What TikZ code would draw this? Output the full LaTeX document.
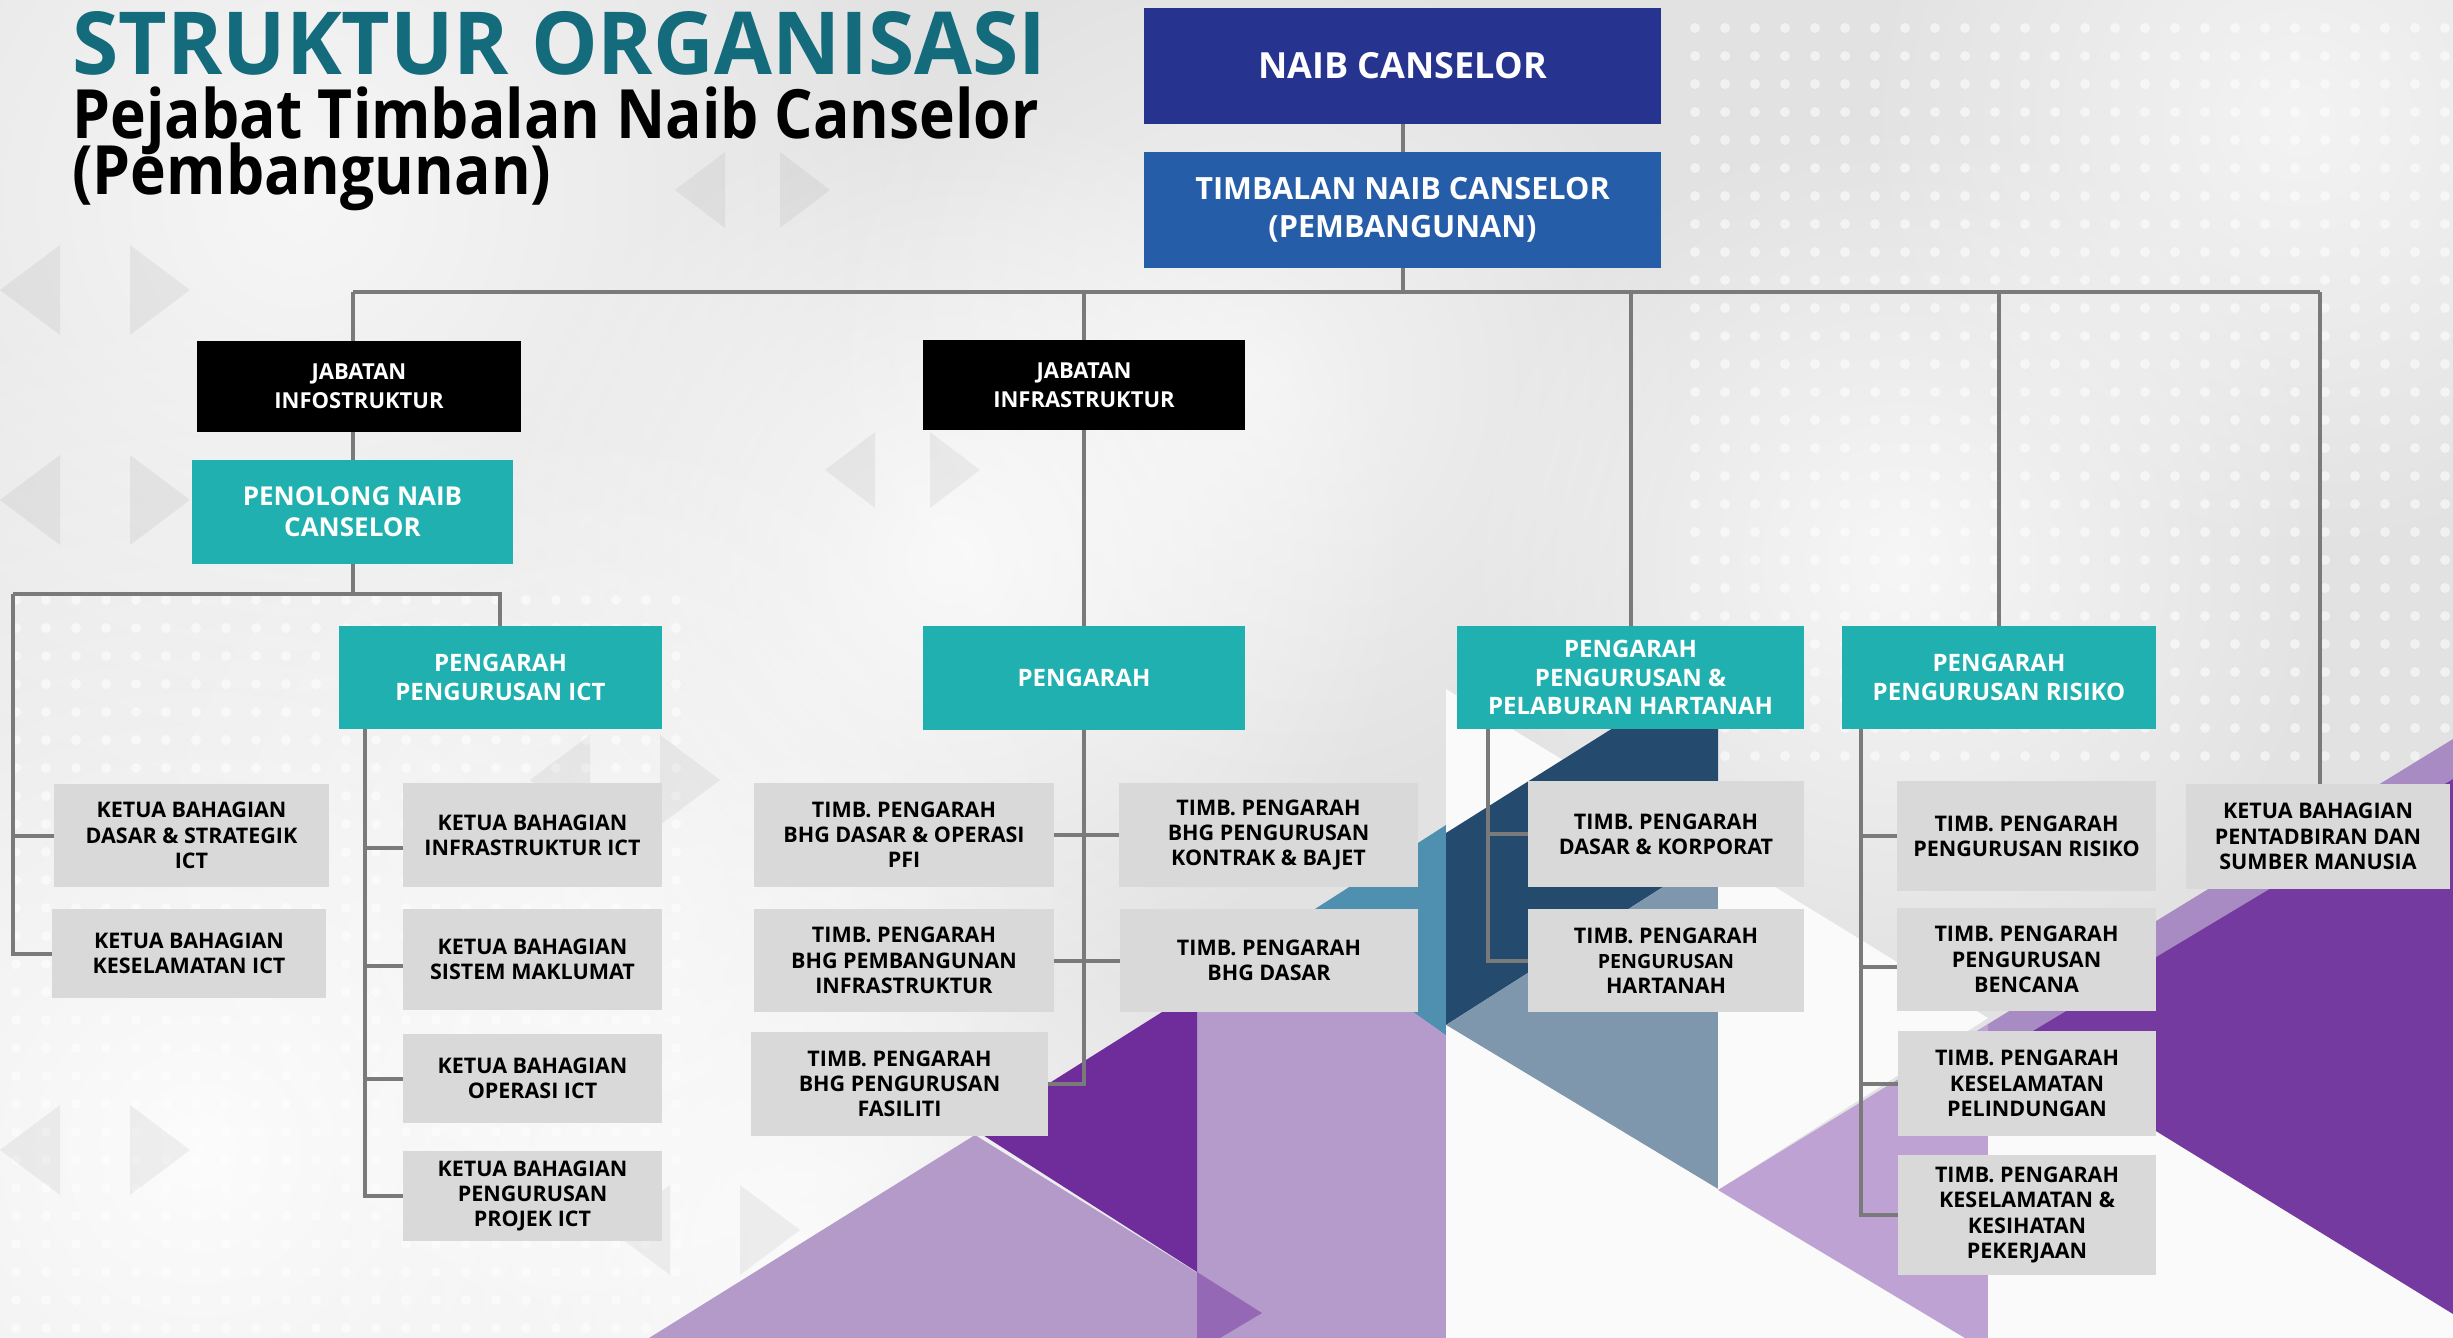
\documentclass[tikz,border=0pt]{standalone}
\usepackage{fontspec}
\setmainfont{Open Sans}
\newfontfamily\titlefont{Open Sans}[FakeStretch=0.965]
\newfontfamily\subfont{Open Sans}[FakeStretch=0.89]
\usetikzlibrary{calc,fadings}
\definecolor{ncblue}{HTML}{27348F}
\definecolor{tncblue}{HTML}{255DA8}
\definecolor{tealbox}{HTML}{21B0B0}
\definecolor{gbox}{HTML}{D9D9D9}
\definecolor{titlec}{HTML}{136B7C}
\definecolor{linkc}{HTML}{7A7A7A}
\definecolor{bgc}{HTML}{E2E2E2}
\definecolor{navyc}{HTML}{244A6E}
\definecolor{slatec}{HTML}{7F97AD}
\definecolor{steelc}{HTML}{4F8FB0}
\definecolor{dpurple}{HTML}{6F2D9C}
\definecolor{rpurple}{HTML}{753A9F}
\definecolor{lpurple}{HTML}{B39AC9}
\definecolor{lavc}{HTML}{B59BCB}
\definecolor{mpurple}{HTML}{9468B4}
\definecolor{bandp}{HTML}{A88BC3}
\definecolor{lav2}{HTML}{BEA2D3}
\definecolor{whitec}{HTML}{FAFAFA}
\tikzfading[name=softblob, inner color=transparent!0, outer color=transparent!100]
\pgfdeclarelayer{deco}
\pgfdeclarelayer{links}
\pgfsetlayers{deco,links,main}
\newcommand\bx[7]{\node[#6, minimum width={(#4-#2)*0.5pt}, minimum height={(#5-#3)*0.5pt}] (#1) at ({(#2+#4)/2},{(#3+#5)/2}) {#7};}
\newcommand\tightlines{\lineskiplimit=-100pt\relax\lineskip=0pt\relax}
\begin{document}
\begin{tikzpicture}[x=0.5pt,y=-0.5pt,
  box/.style={inner sep=0pt, align=center},
  topbox/.style={box, fill=ncblue, text=white, font=\bfseries\fontsize{18}{22}\selectfont},
  tncbox/.style={box, fill=tncblue, text=white, font=\bfseries\fontsize{15.3}{19}\selectfont},
  blackbox/.style={box, fill=black, text=white, font=\bfseries\fontsize{11}{14.3}\selectfont},
  pncbox/.style={box, fill=tealbox, text=white, font=\bfseries\fontsize{13}{15.5}\selectfont},
  tealb/.style={box, fill=tealbox, text=white, font=\bfseries\fontsize{12}{14.3}\selectfont},
  grayb/.style={box, fill=gbox, text=black, font=\bfseries\fontsize{10.75}{12.6}\selectfont},
  link/.style={draw=linkc, line width=2pt},
  dot/.style={fill=white, opacity=0.55},
  tri/.style={fill=black, opacity=0.05},
  blob/.style={fill=white, path fading=softblob},
  titleblock/.style={anchor=north west, inner sep=0pt, align=left, text=black,
    font=\subfont\bfseries\fontsize{34}{28}\selectfont\tightlines}
]
\useasboundingbox (0,0) rectangle (2453,1338);

% ---------- background ----------
\begin{pgfonlayer}{deco}
\fill[bgc] (0,0) rectangle (2453,1338);
\fill[blob, opacity=0.9] (200,1150) circle (420pt);
\fill[blob, opacity=0.7] (300,200) circle (320pt);
\fill[blob, opacity=0.8] (950,560) circle (230pt);
\fill[blob, opacity=0.6] (1250,380) circle (220pt);
\fill[blob, opacity=0.7] (1900,560) circle (220pt);
\fill[blob, opacity=0.6] (2300,120) circle (220pt);
\fill[blob, opacity=0.8] (800,1250) circle (260pt);
\fill[blob, opacity=0.5] (600,900) circle (250pt);
% dots
\foreach \i in {0,...,25}{\foreach \j in {0,...,26}{
  \fill[dot] ({1695+\i*30},{28+\j*28}) circle (2.5pt);}}
\foreach \i in {0,...,22}{\foreach \j in {0,...,26}{
  \fill[dot] ({16+\i*30},{600+\j*28}) circle (2.5pt);}}
% faint play triangles
\foreach \cx/\cy in {30/290, 30/500, 30/1150, 640/1230, 560/780}{
  \fill[tri] (\cx-30,\cy) -- (\cx+30,\cy-45) -- (\cx+30,\cy+45) -- cycle;
  \fill[tri] (\cx+100,\cy-45) -- (\cx+160,\cy) -- (\cx+100,\cy+45) -- cycle;}
\foreach \cx/\cy in {700/190, 1000/380, 850/470}{
  \fill[tri] (\cx-25,\cy) -- (\cx+25,\cy-38) -- (\cx+25,\cy+38) -- cycle;
  \fill[tri] (\cx+80,\cy-38) -- (\cx+130,\cy) -- (\cx+80,\cy+38) -- cycle;}
% decorative polygons
\fill[lavc] (1197,1000) -- (1446,850) -- (1446,1338) -- (1197,1338) -- cycle;
\fill[lpurple] (649,1338) -- (975,1135) -- (1262,1313) -- (1220,1338) -- cycle;
\fill[mpurple] (1197,1272) -- (1262,1313) -- (1220,1338) -- (1197,1338) -- cycle;
\fill[dpurple] (975,1130) -- (1197,990) -- (1197,1272) -- cycle;
\fill[steelc] (1290,925) -- (1446,825) -- (1446,1035) -- cycle;
\fill[whitec] (1446,689) -- (1563,760) -- (1446,833) -- cycle;
\fill[navyc] (1446,833) -- (1718,662) -- (1718,852) -- (1446,1025) -- cycle;
\fill[slatec] (1446,1025) -- (1718,852) -- (1718,1190) -- cycle;
\fill[whitec] (1718,852) -- (1988,1018) -- (1718,1190) -- cycle;
\fill[whitec] (1446,1025) -- (1965,1338) -- (1446,1338) -- cycle;
\fill[lav2] (1718,1190) -- (1988,1024) -- (1988,1338) -- (1965,1338) -- cycle;
\fill[whitec] (1988,1024) -- (2453,739) -- (2453,1338) -- (1988,1338) -- cycle;
\fill[bandp] (1988,1024) -- (2453,739) -- (2453,779) -- (1988,1060) -- cycle;
\fill[rpurple] (2013,1043) -- (2453,779) -- (2453,1314) -- cycle;
\end{pgfonlayer}

% ---------- title ----------
\node[titleblock] (title) at (72,11.5)
  {{\titlefont\fontsize{43.5}{28}\selectfont\color{titlec}STRUKTUR ORGANISASI}\\[4pt]
   Pejabat Timbalan Naib Canselor\\
   (Pembangunan)};

% ---------- boxes ----------
\bx{nc}{1144}{8}{1661}{124}{topbox}{NAIB CANSELOR}
\bx{tnc}{1144}{152}{1661}{268}{tncbox}{TIMBALAN NAIB CANSELOR\\(PEMBANGUNAN)}
\bx{jinfo}{197}{341}{521}{432}{blackbox}{JABATAN\\INFOSTRUKTUR}
\bx{jinfra}{923}{340}{1245}{430}{blackbox}{JABATAN\\INFRASTRUKTUR}
\bx{pnc}{192}{460}{513}{564}{pncbox}{PENOLONG NAIB\\CANSELOR}
\bx{ppict}{339}{626}{662}{729}{tealb}{PENGARAH\\PENGURUSAN ICT}
\bx{peng}{923}{626}{1245}{730}{tealb}{PENGARAH}
\bx{ppph}{1457}{626}{1804}{729}{tealb}{PENGARAH\\PENGURUSAN \&\\PELABURAN HARTANAH}
\bx{ppr}{1842}{626}{2156}{729}{tealb}{PENGARAH\\PENGURUSAN RISIKO}

\bx{kb1}{54}{784}{329}{887}{grayb}{KETUA BAHAGIAN\\DASAR \& STRATEGIK\\ICT}
\bx{kb2}{52}{909}{326}{998}{grayb}{KETUA BAHAGIAN\\KESELAMATAN ICT}
\bx{kb3}{403}{783}{662}{887}{grayb}{KETUA BAHAGIAN\\INFRASTRUKTUR ICT}
\bx{kb4}{403}{909}{662}{1010}{grayb}{KETUA BAHAGIAN\\SISTEM MAKLUMAT}
\bx{kb5}{403}{1034}{662}{1123}{grayb}{KETUA BAHAGIAN\\OPERASI ICT}
\bx{kb6}{403}{1151}{662}{1241}{grayb}{KETUA BAHAGIAN\\PENGURUSAN\\PROJEK ICT}

\bx{tp1}{754}{783}{1054}{887}{grayb}{TIMB. PENGARAH\\BHG DASAR \& OPERASI\\PFI}
\bx{tp2}{1119}{783}{1418}{887}{grayb}{TIMB. PENGARAH\\BHG PENGURUSAN\\KONTRAK \& BAJET}
\bx{tp3}{754}{909}{1054}{1012}{grayb}{TIMB. PENGARAH\\BHG PEMBANGUNAN\\INFRASTRUKTUR}
\bx{tp4}{1120}{909}{1418}{1012}{grayb}{TIMB. PENGARAH\\BHG DASAR}
\bx{tp5}{751}{1032}{1048}{1136}{grayb}{TIMB. PENGARAH\\BHG PENGURUSAN\\FASILITI}

\bx{tp6}{1528}{781}{1804}{887}{grayb}{TIMB. PENGARAH\\DASAR \& KORPORAT}
\bx{tp7}{1528}{909}{1804}{1012}{grayb}{TIMB. PENGARAH\\{\fontsize{9.8}{12.6}\selectfont PENGURUSAN}\\HARTANAH}

\bx{tp8}{1897}{781}{2156}{891}{grayb}{TIMB. PENGARAH\\PENGURUSAN RISIKO}
\bx{tp9}{1897}{908}{2156}{1011}{grayb}{TIMB. PENGARAH\\PENGURUSAN\\BENCANA}
\bx{tp10}{1898}{1031}{2156}{1136}{grayb}{TIMB. PENGARAH\\KESELAMATAN\\PELINDUNGAN}
\bx{tp11}{1898}{1155}{2156}{1275}{grayb}{TIMB. PENGARAH\\KESELAMATAN \&\\KESIHATAN\\PEKERJAAN}
\bx{kbp}{2186}{784}{2450}{889}{grayb}{KETUA BAHAGIAN\\PENTADBIRAN DAN\\SUMBER MANUSIA}

% ---------- connectors ----------
\begin{pgfonlayer}{links}
\coordinate (busL) at (353,292);
\coordinate (busR) at (2320,292);
\coordinate (sbL) at (13,594);
\coordinate (sbR) at (500,594);
\coordinate (ictv) at (365,729);
\coordinate (phv) at (1488,729);
\coordinate (prv) at (1861,729);
\coordinate (kb3c) at ([yshift=-6.5pt]kb3.west);
\coordinate (kb4c) at ([yshift=-3.25pt]kb4.west);
\coordinate (tp9c) at ([yshift=-3.75pt]tp9.west);

\draw[link] (nc.south) -- (tnc.north);
\draw[link] (tnc.south) -- (tnc.south |- busL);
\draw[link] (busL) -- (busR);
\draw[link] (busL) -- (busL |- pnc.north);
\draw[link] (busL -| peng.north) -- (peng.north);
\draw[link] (busL -| ppph.north) -- (ppph.north);
\draw[link] (busL -| ppr.north) -- (ppr.north);
\draw[link] (busR) -- (busR |- kbp.north);

\draw[link] (pnc.south) -- (pnc.south |- sbL);
\draw[link] (sbL) -- (sbR) -- (sbR |- ppict.north);
\draw[link] (sbL) |- (kb2.west);
\draw[link] (sbL |- kb1.west) -- (kb1.west);

\draw[link] (ictv) |- (kb6.west);
\draw[link] (ictv |- kb3c) -- (kb3c);
\draw[link] (ictv |- kb4c) -- (kb4c);
\draw[link] (ictv |- kb5.west) -- (kb5.west);

\draw[link] (peng.south) |- (tp5.east);
\draw[link] (tp1.east) -- (tp2.west);
\draw[link] (tp3.east) -- (tp4.west);

\draw[link] (phv) |- (tp7.west);
\draw[link] (phv |- tp6.west) -- (tp6.west);

\draw[link] (prv) |- (tp11.west);
\draw[link] (prv |- tp8.west) -- (tp8.west);
\draw[link] (prv |- tp9c) -- (tp9c);
\draw[link] (prv |- tp10.west) -- (tp10.west);
\end{pgfonlayer}
\end{tikzpicture}
\end{document}
